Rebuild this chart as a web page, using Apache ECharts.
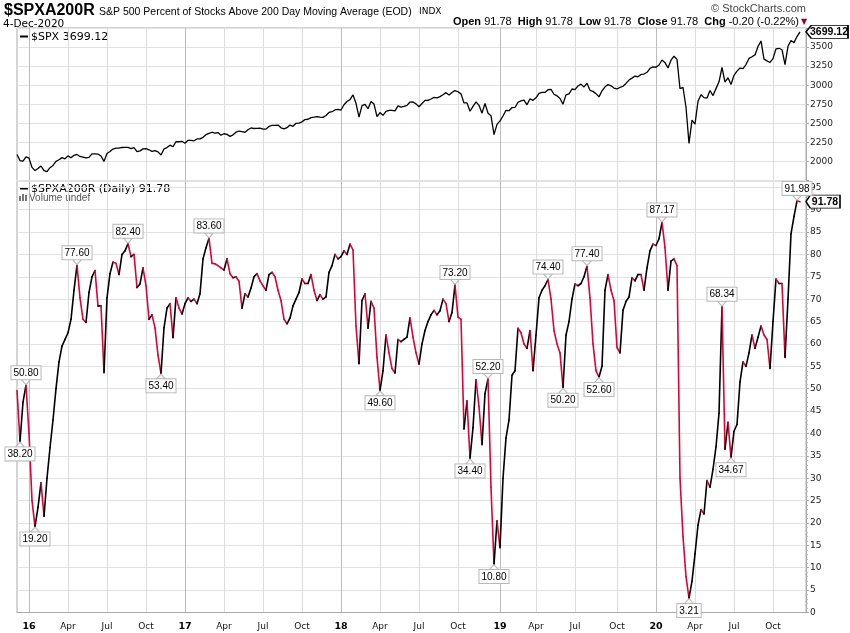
<!DOCTYPE html>
<html><head><meta charset="utf-8">
<script src="https://cdn.jsdelivr.net/npm/echarts@6/dist/echarts.min.js"></script>
<style>html,body{margin:0;padding:0;background:#fff}#c{width:850px;height:633px}</style>
</head><body><div id="c"></div>
<script>
// ---------- DATA (weekly samples, first = 2015-12-04) ----------
const firstWeek = '2015-12-04';
const weekCount = 264; // includes two empty weeks after the last close
const spx2015 = [2091, 2012, 2005, 2061];
const spx2016 = [2044,1922,1880,1907,1940,1880,1865,1918,1948,2000,2022,2050,2035,2073,2048,2081,2092,2065,2057,2047,2053,2099,2099,2096,2071,2001,2103,2130,2162,2175,2174,2183,2184,2184,2169,2180,2128,2139,2165,2168,2153,2133,2141,2126,2085,2164,2182,2213,2192,2260,2258,2264,2239];
const spx2017 = [2277,2275,2271,2295,2297,2316,2351,2367,2383,2372,2378,2344,2363,2355,2329,2349,2384,2399,2391,2382,2416,2439,2432,2433,2438,2423,2425,2459,2473,2472,2477,2441,2426,2443,2477,2461,2500,2502,2519,2549,2553,2575,2581,2588,2582,2578,2602,2642,2652,2675,2683,2674];
const spx2018 = [2743,2786,2810,2873,2762,2581,2732,2747,2691,2786,2752,2588,2641,2604,2656,2670,2670,2663,2728,2713,2721,2735,2779,2780,2755,2718,2760,2801,2802,2819,2840,2833,2850,2875,2902,2872,2905,2930,2914,2886,2767,2768,2658,2723,2781,2736,2633,2760,2633,2600,2351,2486];
const spx2019 = [2532,2596,2671,2665,2707,2708,2776,2793,2804,2743,2822,2801,2834,2893,2907,2905,2940,2946,2881,2860,2826,2752,2873,2887,2950,2942,2990,3014,2977,3026,2932,2919,2889,2847,2926,2979,3007,2992,2962,2952,2970,2986,3023,3067,3093,3120,3110,3141,3146,3169,3221,3240];
const spx2020 = [3235,3265,3330,3295,3226,3328,3380,3338,2954,2972,2711,2237,2541,2489,2790,2875,2837,2831,2930,2864,2955,3044,3232,3041,3098,3009,3130,3185,3225,3216,3271,3351,3373,3397,3508,3580,3341,3319,3298,3348,3477,3484,3465,3270,3510,3585,3558,3638,3699.12];

const pct2015 = [49.6, 38.2, 47.0, 50.8];
const pct2016 = [40.0,25.0,19.2,23.5,29.0,21.5,30.0,36.8,43.0,50.0,56.0,59.5,61.0,62.5,65.5,72.0,77.6,70.3,65.5,64.8,71.5,75.0,76.4,68.5,68.5,53.6,70.3,75.7,78.3,78.0,75.5,80.0,80.8,82.4,79.5,80.0,72.6,73.4,77.0,73.0,65.5,66.5,63.6,57.5,53.4,63.6,68.0,69.0,61.4,70.3,68.0,66.7,69.0];
const pct2017 = [70.3,69.5,70.0,69.0,71.2,79.0,81.5,83.6,78.0,77.9,77.5,77.0,76.5,79.0,75.7,74.8,75.0,74.0,68.0,71.2,70.5,72.5,75.0,75.7,74.1,73.0,72.0,75.5,76.0,75.0,72.0,69.7,65.5,64.5,65.8,68.5,70.0,71.5,74.5,73.5,73.5,75.5,72.0,69.7,71.0,70.0,70.5,76.0,77.5,80.0,79.0,79.5];
const pct2018 = [80.8,80.0,82.3,81.0,64.0,55.6,69.7,71.2,63.5,69.5,68.0,57.0,49.6,54.0,62.0,58.0,54.5,53.5,61.0,60.5,61.0,61.5,65.8,61.5,58.0,55.5,60.0,63.0,65.0,66.5,67.5,66.5,67.4,70.0,69.0,65.0,67.0,73.2,66.0,65.5,41.0,47.3,34.4,41.3,52.0,46.0,37.5,48.9,52.2,28.0,10.8,20.5];
const pct2019 = [14.5,30.0,39.0,43.0,53.0,54.0,63.5,62.5,60.0,59.0,63.0,54.0,62.0,70.3,72.0,73.0,74.4,70.0,63.0,60.0,58.0,50.2,62.0,65.0,70.0,73.4,73.0,73.5,75.0,77.4,70.3,60.0,54.0,52.6,55.0,72.0,75.5,72.0,69.7,59.2,58.0,67.5,69.5,70.5,74.8,74.1,75.5,75.5,72.0,77.0,80.8,82.3];
const pct2020 = [82.0,83.5,87.17,81.5,72.0,78.5,79.0,77.5,30.0,17.0,8.0,3.21,7.0,13.1,19.5,23.0,22.0,29.5,28.0,32.0,37.0,44.5,68.34,36.5,42.5,34.67,40.5,42.0,51.5,56.0,55.0,58.0,62.0,59.0,61.5,64.0,62.0,61.0,54.5,65.0,74.5,73.5,73.5,57.0,70.0,84.6,88.5,91.98,91.78];

// annotated turning points (indexes into the weekly series)
const peakIdx = [3, 20, 37, 64, 146, 157, 177, 190, 215, 235, 260];
const troughIdx = [1, 6, 48, 121, 151, 159, 182, 194, 224, 238];

const spyTicksMin = 2000, spyTicksMax = 3500;

// ---------- BUILD ----------
const spx = [].concat(spx2015, spx2016, spx2017, spx2018, spx2019, spx2020);
const pct = [].concat(pct2015, pct2016, pct2017, pct2018, pct2019, pct2020);
const cats = [];
{ const t0 = Date.parse(firstWeek + 'T00:00:00Z'); for (let i = 0; i < weekCount; i++) cats.push(new Date(t0 + i * 7 * 864e5).toISOString().slice(0, 10)); }
const last = pct.length - 1;

const fontA = '"Liberation Sans", Arial, sans-serif';
const fontV = '"DejaVu Sans", Verdana, sans-serif';
const RED = '#d6063c';

function nearQuarter(ds) {
  const t0 = Date.parse(ds + 'T00:00:00Z');
  for (let off = -3; off <= 3; off++) {
    const d = new Date(t0 + off * 864e5);
    if (d.getUTCDate() === 1 && d.getUTCMonth() % 3 === 0) return d;
  }
  return null;
}
const qInterval = (idx, val) => nearQuarter(val) !== null;
const monthNames = { 3: 'Apr', 6: 'Jul', 9: 'Oct' };
const qLabel = (val) => {
  const d = nearQuarter(val); if (!d) return '';
  const m = d.getUTCMonth();
  if (m === 0) return '{y|' + String(d.getUTCFullYear()).slice(2) + '}';
  return monthNames[m];
};
const vSplitColors = ['#bcbcbc', '#dcdcdc', '#dcdcdc', '#dcdcdc'];

const segs = [];
for (let i = 1; i < pct.length; i++) segs.push([i, pct[i - 1], pct[i]]);

const boxLabel = {
  show: true, color: '#000', fontFamily: fontA, fontSize: 10,
  backgroundColor: '#fff', borderColor: '#b8b8b8', borderWidth: 1, padding: [2, 2, 1, 2],
  formatter: p => Number(p.value).toFixed(2)
};
const annot = [];
peakIdx.forEach(k => annot.push({
  coord: [cats[k], pct[k]], value: pct[k],
  symbol: 'path://M0,0 L10,0 L5,6 Z', symbolSize: [9, 5], symbolOffset: [0, -3],
  label: Object.assign({}, boxLabel, { position: 'top', distance: 0 })
}));
troughIdx.forEach(k => annot.push({
  coord: [cats[k], pct[k]], value: pct[k],
  symbol: 'path://M5,0 L10,6 L0,6 Z', symbolSize: [9, 5], symbolOffset: [0, 3],
  label: Object.assign({}, boxLabel, { position: 'bottom', distance: 0 })
}));

const tagPath = 'path://M0,6 L6,0 L48,0 L48,12 L6,12 Z';
const chg = pct[last] - pct[last - 1];
const chgPct = chg / pct[last - 1] * 100;
const fmt = v => v.toFixed(2);

const chart = echarts.init(document.getElementById('c'), null, { renderer: 'canvas' });
chart.setOption({
  animation: false,
  backgroundColor: '#fff',
  grid: [
    { left: 17, top: 28, width: 789, height: 152.5, show: true, borderColor: '#aaa', borderWidth: 1 },
    { left: 17, top: 181, width: 789, height: 431.5, show: true, borderColor: '#aaa', borderWidth: 1 }
  ],
  xAxis: [
    { type: 'category', gridIndex: 0, data: cats, boundaryGap: false,
      axisLine: { show: false }, axisTick: { show: false }, axisLabel: { show: false },
      splitLine: { show: true, interval: qInterval, lineStyle: { color: vSplitColors, width: 1 } } },
    { type: 'category', gridIndex: 1, data: cats, boundaryGap: false, offset: 4.5,
      axisLine: { show: true, lineStyle: { color: '#aaa' } }, axisTick: { show: false },
      axisLabel: { interval: qInterval, formatter: qLabel, color: '#111', fontFamily: fontV, fontSize: 9, margin: 5,
        rich: { y: { fontWeight: 'bold', fontFamily: fontV, fontSize: 9.5, color: '#000' } } },
      splitLine: { show: true, interval: qInterval, lineStyle: { color: vSplitColors, width: 1 } } }
  ],
  yAxis: [
    { type: 'value', gridIndex: 0, position: 'right', min: 1750, max: 3750, interval: 250,
      axisLine: { show: true, lineStyle: { color: '#aaa' } },
      axisTick: { show: true, length: 3, lineStyle: { color: '#aaa' } },
      axisLabel: { margin: 4, color: '#222', fontFamily: fontV, fontSize: 9,
        formatter: v => (v >= spyTicksMin && v <= spyTicksMax) ? String(v) : '' },
      splitLine: { show: true, lineStyle: { color: '#e2e2e2' } } },
    { type: 'value', gridIndex: 1, position: 'right', min: 0, max: 96.4, interval: 5,
      axisLine: { show: true, lineStyle: { color: '#aaa' } },
      axisTick: { show: true, length: 3, lineStyle: { color: '#aaa' } },
      minorTick: { show: true, splitNumber: 5, length: 2, lineStyle: { color: '#bbb' } },
      axisLabel: { margin: 4, color: '#222', fontFamily: fontV, fontSize: 9,
        formatter: v => (v % 5 === 0 && v <= 95) ? String(v) : '' },
      splitLine: { show: true, lineStyle: { color: '#e2e2e2' } } }
  ],
  series: [
    { type: 'line', xAxisIndex: 0, yAxisIndex: 0, data: spx, symbol: 'none', z: 5,
      lineStyle: { color: '#000', width: 1.3 },
      markPoint: { silent: true, z: 20, data: [{
        coord: [cats[last], spx[last]], value: spx[last], symbol: tagPath, symbolSize: [42, 13], symbolOffset: [27, 0],
        itemStyle: { color: '#fff', borderColor: '#000', borderWidth: 1 },
        label: { show: true, position: 'inside', offset: [2, 0], color: '#000', fontFamily: fontA, fontWeight: 'bold', fontSize: 10.5,
          formatter: p => fmt(p.value) } }] } },
    { type: 'custom', xAxisIndex: 1, yAxisIndex: 1, data: segs, z: 5, encode: { x: 0, y: [1, 2] },
      renderItem: (params, api) => {
        const i = api.value(0), a = api.value(1), b = api.value(2);
        const p0 = api.coord([i - 1, a]), p1 = api.coord([i, b]);
        return { type: 'line', shape: { x1: p0[0], y1: p0[1], x2: p1[0], y2: p1[1] },
          style: { stroke: b >= a ? '#000' : RED, lineWidth: 1.6, lineCap: 'round' } };
      } },
    { type: 'line', xAxisIndex: 1, yAxisIndex: 1, data: pct, symbol: 'none', silent: true, z: 8,
      lineStyle: { opacity: 0 },
      markPoint: { silent: true, z: 20,
        itemStyle: { color: '#fff', borderColor: '#b8b8b8', borderWidth: 1 },
        data: annot.concat([{
          coord: [cats[last], pct[last]], value: pct[last], symbol: tagPath, symbolSize: [34, 13], symbolOffset: [23, 0],
          itemStyle: { color: '#fff', borderColor: '#000', borderWidth: 1 },
          label: { show: true, position: 'inside', offset: [2, 0], color: '#000', fontFamily: fontA, fontWeight: 'bold', fontSize: 10.5,
            backgroundColor: 'transparent', borderWidth: 0, formatter: p => fmt(p.value) } }]) } }
  ],
  graphic: [
    { type: 'text', x: 4, y: 11, style: { text: '$SPXA200R', font: 'bold 16px ' + fontA, fill: '#000', verticalAlign: 'middle' } },
    { type: 'text', x: 99, y: 12, style: { text: 'S&P 500 Percent of Stocks Above 200 Day Moving Average (EOD)', font: '10.5px ' + fontA, fill: '#000', verticalAlign: 'middle' } },
    { type: 'text', x: 419, y: 12, style: { text: 'INDX', font: '9px ' + fontV, fill: '#000', verticalAlign: 'middle' } },
    { type: 'text', x: 3, y: 24, style: { text: '4-Dec-2020', font: '10.5px ' + fontV, fill: '#000', verticalAlign: 'middle' } },
    { type: 'text', x: 806, y: 9, style: { text: '\u00a9 StockCharts.com', font: '11px ' + fontA, fill: '#444', align: 'right', verticalAlign: 'middle' } },
    { type: 'text', x: 799, y: 22, style: {
        text: '{b|Open} ' + fmt(pct[last]) + '  {b|High} ' + fmt(pct[last]) + '  {b|Low} ' + fmt(pct[last]) + '  {b|Close} ' + fmt(pct[last]) + '  {b|Chg} ' + fmt(chg) + ' (' + fmt(chgPct) + '%)',
        font: '11px ' + fontA, fill: '#000', align: 'right', verticalAlign: 'middle',
        rich: { b: { fontWeight: 'bold', fontSize: 11, fontFamily: fontA } } } },
    { type: 'text', x: 804, y: 22, style: { text: '\u25BC', font: '8px ' + fontV, fill: '#99002a', align: 'center', verticalAlign: 'middle' } },
    { type: 'line', shape: { x1: 20, y1: 36.5, x2: 28, y2: 36.5 }, style: { stroke: '#000', lineWidth: 2 } },
    { type: 'text', x: 31, y: 37, style: { text: '$SPX ' + fmt(spx[last]), font: '11px ' + fontV, fill: '#000', verticalAlign: 'middle' } },
    { type: 'line', shape: { x1: 20, y1: 188.5, x2: 28, y2: 188.5 }, style: { stroke: '#000', lineWidth: 2 } },
    { type: 'text', x: 31, y: 189, style: { text: '$SPXA200R (Daily) ' + fmt(pct[last]), font: '11px ' + fontV, fill: '#000', verticalAlign: 'middle' } },
    { type: 'rect', shape: { x: 19, y: 196, width: 2, height: 5 }, style: { fill: '#777' } },
    { type: 'rect', shape: { x: 22, y: 194, width: 2, height: 7 }, style: { fill: '#777' } },
    { type: 'rect', shape: { x: 25, y: 195, width: 2, height: 6 }, style: { fill: '#777' } },
    { type: 'text', x: 29, y: 198.5, style: { text: 'Volume undef', font: '10px ' + fontA, fill: '#555', verticalAlign: 'middle' } }
  ]
});
</script>
</body></html>
